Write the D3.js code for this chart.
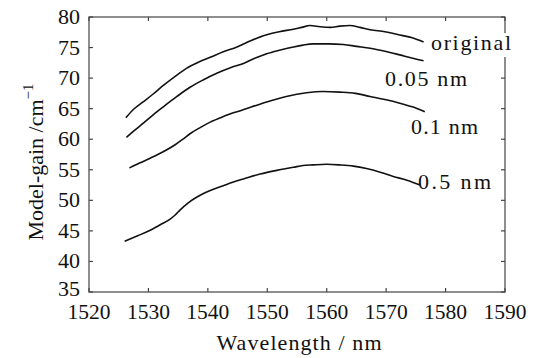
<!DOCTYPE html>
<html><head><meta charset="utf-8">
<script src="https://cdn.jsdelivr.net/npm/d3@7"></script>
<style>body{margin:0;background:#fff}svg{display:block}</style>
</head><body>
<svg id="c" width="540" height="358"></svg>
<script>
const xTicks = [1520,1530,1540,1550,1560,1570,1580,1590];
const yTicks = [35,40,45,50,55,60,65,70,75,80];
const seriesNames = ["original","0.05 nm","0.1 nm","0.5 nm"];
const wlOriginal = [1526.2,1527.5,1529.1,1530.8,1532.5,1534.5,1536.4,1538.4,1540.4,1542.6,1544.9,1547.4,1549.9,1552.0,1554.4,1555.8,1557.2,1558.9,1560.6,1562.2,1563.9,1565.6,1567.3,1569.8,1572.3,1574.4,1576.3];
const gOriginal  = [63.5,64.9,66.1,67.4,68.8,70.3,71.6,72.6,73.4,74.3,75.1,76.2,77.1,77.6,78.0,78.3,78.6,78.4,78.3,78.5,78.6,78.3,77.9,77.6,77.05,76.6,75.9];
const wl005 = [1526.3,1527.6,1529.1,1530.8,1532.5,1534.8,1537.0,1539.2,1541.5,1543.8,1546.0,1548.0,1549.9,1552.2,1554.4,1556.0,1557.7,1560.2,1562.8,1565.0,1567.3,1569.8,1572.3,1574.3,1576.3];
const g005  = [60.3,61.4,62.6,64.0,65.3,67.0,68.5,69.7,70.8,71.7,72.4,73.3,74.0,74.6,75.1,75.4,75.6,75.6,75.5,75.2,74.9,74.4,73.8,73.3,72.85];
const wl01 = [1526.8,1528.5,1530.3,1532.4,1534.5,1535.8,1537.0,1538.7,1540.4,1542.6,1544.9,1547.4,1549.9,1553.2,1556.6,1559.4,1562.2,1564.8,1567.3,1569.8,1572.3,1574.4,1576.5];
const g01  = [55.3,56.1,56.9,57.9,59.1,60.0,60.9,61.9,62.8,63.7,64.5,65.3,66.1,67.0,67.6,67.8,67.7,67.5,67.0,66.5,65.9,65.3,64.5];
const wl05 = [1526.0,1528.2,1530.3,1532.0,1533.6,1534.5,1535.3,1536.7,1538.1,1540.4,1542.6,1544.3,1546.0,1548.8,1551.6,1554.4,1556.0,1557.7,1560.0,1562.2,1564.5,1566.7,1569.0,1571.2,1573.5,1575.7];
const g05  = [43.3,44.2,45.1,46.0,46.9,47.6,48.4,49.6,50.5,51.6,52.4,53.0,53.5,54.3,54.9,55.4,55.7,55.8,55.9,55.8,55.6,55.2,54.6,53.9,53.3,52.5];

const FONT = "Liberation Serif";
const svg = d3.select("#c");
const m = {l:89, r:505, t:17, b:292};
const x = d3.scaleLinear().domain([1520,1590]).range([m.l,m.r]);
const y = d3.scaleLinear().domain([35,80]).range([m.b,m.t]);
const axisColor = "#444";
function txt(sel){ return sel.append("text").style("font-family",FONT).attr("fill","#111"); }

svg.append("rect").attr("x",m.l).attr("y",m.t).attr("width",m.r-m.l).attr("height",m.b-m.t)
  .attr("fill","none").attr("stroke",axisColor).attr("stroke-width",1.2);

const tl = 4;
const tg = svg.append("g").attr("stroke",axisColor).attr("stroke-width",1.2);
xTicks.forEach(v=>{
  tg.append("line").attr("x1",x(v)).attr("x2",x(v)).attr("y1",m.b).attr("y2",m.b-tl);
  tg.append("line").attr("x1",x(v)).attr("x2",x(v)).attr("y1",m.t).attr("y2",m.t+tl);
});
yTicks.forEach(v=>{
  tg.append("line").attr("y1",y(v)).attr("y2",y(v)).attr("x1",m.l).attr("x2",m.l+tl);
  tg.append("line").attr("y1",y(v)).attr("y2",y(v)).attr("x1",m.r).attr("x2",m.r-tl);
});

const fs = 22;
xTicks.forEach(v=>{
  txt(svg).attr("x",x(v)).attr("y",m.b+27).attr("text-anchor","middle")
    .style("font-size",fs+"px").attr("textLength",43).attr("lengthAdjust","spacingAndGlyphs").text(v);
});
yTicks.forEach(v=>{
  txt(svg).attr("x",m.l-9).attr("y",y(v)+(v===35?4:7)).attr("text-anchor","end")
    .style("font-size",fs+"px").text(v);
});

const line = d3.line().x(d=>x(d[0])).y(d=>y(d[1])).curve(d3.curveMonotoneX);
const series = [[wlOriginal,gOriginal],[wl005,g005],[wl01,g01],[wl05,g05]];
series.forEach(([w,g])=>{
  svg.append("path").datum(w.map((v,i)=>[v,g[i]])).attr("d",line)
    .attr("fill","none").attr("stroke","#111").attr("stroke-width",1.6);
});

const labPos = [[431,50,80],[385,86,82],[411,134,67],[418,189,73]];
seriesNames.forEach((n,i)=>{
  const [lx,ly,lw] = labPos[i];
  if(i===0){
    svg.append("rect").attr("x",lx-1).attr("y",ly-17).attr("width",lw+3).attr("height",24).attr("fill","#fff");
  }
  txt(svg).attr("x",lx).attr("y",ly).style("font-size",fs+"px")
    .attr("textLength",lw).attr("lengthAdjust","spacing").text(n);
});

txt(svg).attr("x",299).attr("y",350).attr("text-anchor","middle").style("font-size",fs+"px")
  .attr("textLength",165).attr("lengthAdjust","spacing").text("Wavelength / nm");
const yl = txt(svg).attr("transform","translate(43,162) rotate(-90)")
  .attr("text-anchor","middle").style("font-size",fs+"px");
yl.append("tspan").text("Model-gain /cm");
yl.append("tspan").style("font-size","15px").attr("dy",-10).text("\u2212");
yl.append("tspan").style("font-size","15px").text("1");
</script>
</body></html>
